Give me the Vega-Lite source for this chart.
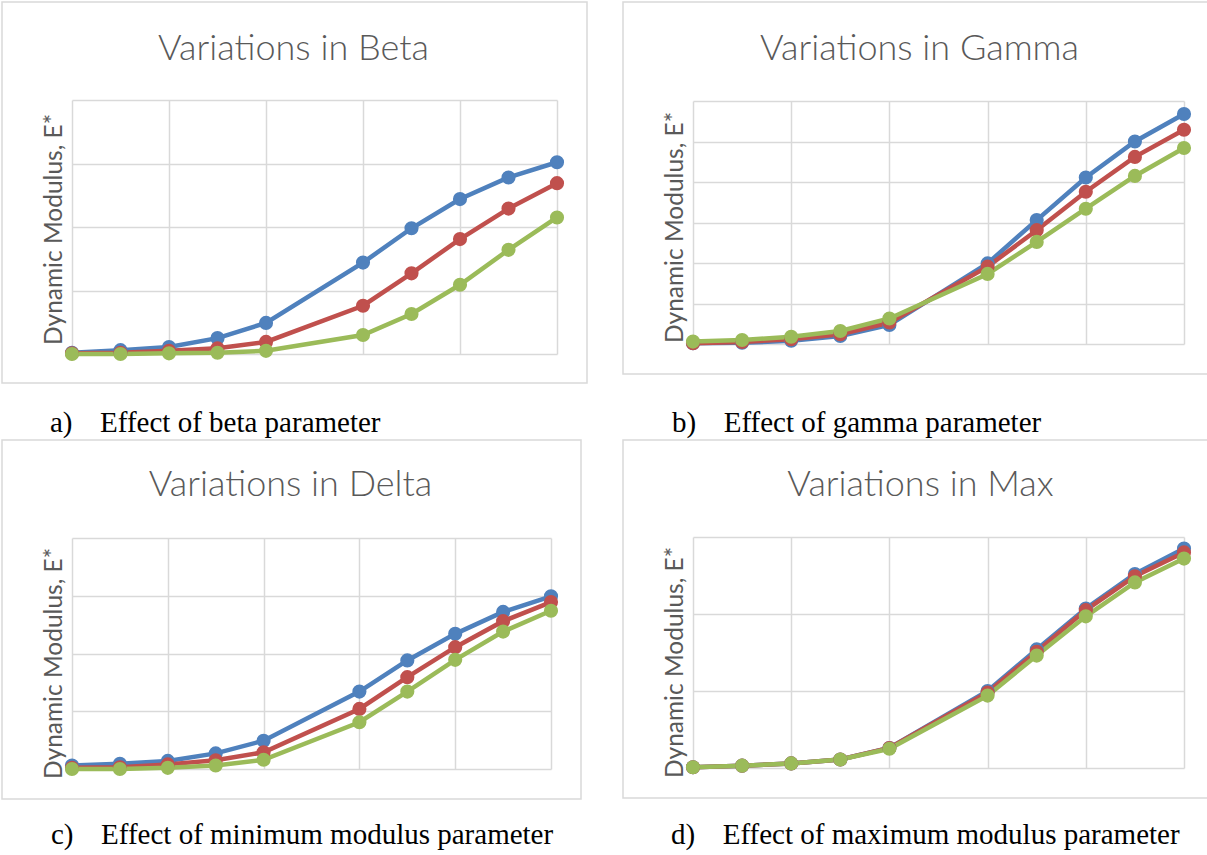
{
  "$schema": "https://vega.github.io/schema/vega-lite/v6.json",
  "padding": {"left": 1, "top": 1, "right": 0, "bottom": 0},
  "background": "white",
  "bounds": "flush",
  "columns": 2,
  "spacing": {"row": 57, "column": 36},
  "config": {
    "view": {"stroke": "#d9d9d9", "strokeWidth": 1.5},
    "axis": {
      "grid": true, "gridColor": "#d9d9d9", "gridWidth": 1.5,
      "domain": false, "ticks": false, "labels": false,
      "titleColor": "#595959", "titleFont": "Lato", "titleAlign": "center", "titleBaseline": "alphabetic"
    },
    "title": {"font": "Liberation Serif", "fontSize": 29, "fontWeight": "normal", "color": "#000000", "orient": "bottom", "anchor": "start", "frame": "group"},
    "line": {"strokeWidth": 4.5},
    "point": {"filled": true, "size": 200, "opacity": 1}
  },
  "datasets": {
    "a": [
      {"x": 0, "s": "1", "y": 0.02}, {"x": 0.5, "s": "1", "y": 0.06}, {"x": 1, "s": "1", "y": 0.11}, {"x": 1.5, "s": "1", "y": 0.25}, {"x": 2, "s": "1", "y": 0.49},
      {"x": 3, "s": "1", "y": 1.44}, {"x": 3.5, "s": "1", "y": 1.98}, {"x": 4, "s": "1", "y": 2.44}, {"x": 4.5, "s": "1", "y": 2.78}, {"x": 5, "s": "1", "y": 3.02},
      {"x": 0, "s": "2", "y": 0.01}, {"x": 0.5, "s": "2", "y": 0.02}, {"x": 1, "s": "2", "y": 0.05}, {"x": 1.5, "s": "2", "y": 0.09}, {"x": 2, "s": "2", "y": 0.19},
      {"x": 3, "s": "2", "y": 0.76}, {"x": 3.5, "s": "2", "y": 1.27}, {"x": 4, "s": "2", "y": 1.81}, {"x": 4.5, "s": "2", "y": 2.29}, {"x": 5, "s": "2", "y": 2.69},
      {"x": 0, "s": "3", "y": 0.0}, {"x": 0.5, "s": "3", "y": 0.0}, {"x": 1, "s": "3", "y": 0.01}, {"x": 1.5, "s": "3", "y": 0.02}, {"x": 2, "s": "3", "y": 0.05},
      {"x": 3, "s": "3", "y": 0.30}, {"x": 3.5, "s": "3", "y": 0.63}, {"x": 4, "s": "3", "y": 1.09}, {"x": 4.5, "s": "3", "y": 1.64}, {"x": 5, "s": "3", "y": 2.15}
    ],
    "b": [
      {"x": 0, "s": "1", "y": 0.02}, {"x": 0.5, "s": "1", "y": 0.03}, {"x": 1, "s": "1", "y": 0.08}, {"x": 1.5, "s": "1", "y": 0.2}, {"x": 2, "s": "1", "y": 0.47},
      {"x": 3, "s": "1", "y": 1.99}, {"x": 3.5, "s": "1", "y": 3.06}, {"x": 4, "s": "1", "y": 4.11}, {"x": 4.5, "s": "1", "y": 5.0}, {"x": 5, "s": "1", "y": 5.68},
      {"x": 0, "s": "2", "y": 0.02}, {"x": 0.5, "s": "2", "y": 0.05}, {"x": 1, "s": "2", "y": 0.12}, {"x": 1.5, "s": "2", "y": 0.24}, {"x": 2, "s": "2", "y": 0.53},
      {"x": 3, "s": "2", "y": 1.91}, {"x": 3.5, "s": "2", "y": 2.81}, {"x": 4, "s": "2", "y": 3.76}, {"x": 4.5, "s": "2", "y": 4.62}, {"x": 5, "s": "2", "y": 5.29},
      {"x": 0, "s": "3", "y": 0.06}, {"x": 0.5, "s": "3", "y": 0.10}, {"x": 1, "s": "3", "y": 0.18}, {"x": 1.5, "s": "3", "y": 0.32}, {"x": 2, "s": "3", "y": 0.63},
      {"x": 3, "s": "3", "y": 1.73}, {"x": 3.5, "s": "3", "y": 2.52}, {"x": 4, "s": "3", "y": 3.34}, {"x": 4.5, "s": "3", "y": 4.15}, {"x": 5, "s": "3", "y": 4.84}
    ],
    "c": [
      {"x": 0, "s": "1", "y": 0.06}, {"x": 0.5, "s": "1", "y": 0.09}, {"x": 1, "s": "1", "y": 0.14}, {"x": 1.5, "s": "1", "y": 0.27}, {"x": 2, "s": "1", "y": 0.49},
      {"x": 3, "s": "1", "y": 1.34}, {"x": 3.5, "s": "1", "y": 1.88}, {"x": 4, "s": "1", "y": 2.34}, {"x": 4.5, "s": "1", "y": 2.72}, {"x": 5, "s": "1", "y": 2.99},
      {"x": 0, "s": "2", "y": 0.02}, {"x": 0.5, "s": "2", "y": 0.03}, {"x": 1, "s": "2", "y": 0.08}, {"x": 1.5, "s": "2", "y": 0.15}, {"x": 2, "s": "2", "y": 0.29},
      {"x": 3, "s": "2", "y": 1.04}, {"x": 3.5, "s": "2", "y": 1.59}, {"x": 4, "s": "2", "y": 2.11}, {"x": 4.5, "s": "2", "y": 2.56}, {"x": 5, "s": "2", "y": 2.89},
      {"x": 0, "s": "3", "y": 0.0}, {"x": 0.5, "s": "3", "y": 0.0}, {"x": 1, "s": "3", "y": 0.02}, {"x": 1.5, "s": "3", "y": 0.06}, {"x": 2, "s": "3", "y": 0.16},
      {"x": 3, "s": "3", "y": 0.81}, {"x": 3.5, "s": "3", "y": 1.34}, {"x": 4, "s": "3", "y": 1.89}, {"x": 4.5, "s": "3", "y": 2.38}, {"x": 5, "s": "3", "y": 2.74}
    ],
    "d": [
      {"x": 0, "s": "1", "y": 0.01}, {"x": 0.5, "s": "1", "y": 0.03}, {"x": 1, "s": "1", "y": 0.06}, {"x": 1.5, "s": "1", "y": 0.11}, {"x": 2, "s": "1", "y": 0.26},
      {"x": 3, "s": "1", "y": 1.0}, {"x": 3.5, "s": "1", "y": 1.54}, {"x": 4, "s": "1", "y": 2.07}, {"x": 4.5, "s": "1", "y": 2.52}, {"x": 5, "s": "1", "y": 2.85},
      {"x": 0, "s": "2", "y": 0.01}, {"x": 0.5, "s": "2", "y": 0.03}, {"x": 1, "s": "2", "y": 0.06}, {"x": 1.5, "s": "2", "y": 0.11}, {"x": 2, "s": "2", "y": 0.26},
      {"x": 3, "s": "2", "y": 0.98}, {"x": 3.5, "s": "2", "y": 1.51}, {"x": 4, "s": "2", "y": 2.05}, {"x": 4.5, "s": "2", "y": 2.49}, {"x": 5, "s": "2", "y": 2.80},
      {"x": 0, "s": "3", "y": 0.01}, {"x": 0.5, "s": "3", "y": 0.03}, {"x": 1, "s": "3", "y": 0.06}, {"x": 1.5, "s": "3", "y": 0.11}, {"x": 2, "s": "3", "y": 0.25},
      {"x": 3, "s": "3", "y": 0.94}, {"x": 3.5, "s": "3", "y": 1.46}, {"x": 4, "s": "3", "y": 1.97}, {"x": 4.5, "s": "3", "y": 2.41}, {"x": 5, "s": "3", "y": 2.72}
    ]
  },
  "concat": [
    {
      "width": 585, "height": 381,
      "data": {"name": "a"},
      "title": {"text": "a)\u00a0\u00a0\u00a0\u2009Effect of beta parameter", "offset": 26, "dx": 48},
      "encoding": {
        "x": {"field": "x", "type": "quantitative", "scale": {"domain": [0, 5], "range": [70, 555], "nice": false, "zero": false},
              "axis": {"orient": "top", "values": [0, 1, 2, 3, 4, 5], "title": "Variations in Beta", "titleX": 291, "titleY": 57, "titleFontSize": 36, "titleFontWeight": 300, "titleAngle": 0}},
        "y": {"field": "y", "type": "quantitative", "scale": {"domain": [0, 4], "range": [352, 98], "nice": false, "zero": false},
              "axis": {"orient": "left", "values": [0, 1, 2, 3, 4], "title": "Dynamic Modulus, E*", "titleX": 59, "titleY": 227, "titleFontSize": 24.5, "titleFontWeight": "normal", "titleAngle": -90}},
        "color": {"field": "s", "type": "nominal", "scale": {"domain": ["1", "2", "3"], "range": ["#4F81BD", "#C0504D", "#9BBB59"]}, "legend": null}
      },
      "layer": [{"mark": "line"}, {"mark": "point"}]
    },
    {
      "width": 585, "height": 372,
      "data": {"name": "b"},
      "title": {"text": "b)\u00a0\u00a0\u00a0\u2009Effect of gamma parameter", "offset": 35, "dx": 49},
      "encoding": {
        "x": {"field": "x", "type": "quantitative", "scale": {"domain": [0, 5], "range": [70, 561], "nice": false, "zero": false},
              "axis": {"orient": "top", "values": [0, 1, 2, 3, 4, 5], "title": "Variations in Gamma", "titleX": 296, "titleY": 57, "titleFontSize": 36, "titleFontWeight": 300, "titleAngle": 0}},
        "y": {"field": "y", "type": "quantitative", "scale": {"domain": [0, 6], "range": [342, 99], "nice": false, "zero": false},
              "axis": {"orient": "left", "values": [0, 1, 2, 3, 4, 5, 6], "title": "Dynamic Modulus, E*", "titleX": 59, "titleY": 225, "titleFontSize": 24.5, "titleFontWeight": "normal", "titleAngle": -90}},
        "color": {"field": "s", "type": "nominal", "scale": {"domain": ["1", "2", "3"], "range": ["#4F81BD", "#C0504D", "#9BBB59"]}, "legend": null}
      },
      "layer": [{"mark": "line"}, {"mark": "point"}]
    },
    {
      "width": 579, "height": 359,
      "data": {"name": "c"},
      "title": {"text": "c)\u00a0\u00a0\u00a0\u2009Effect of minimum modulus parameter", "offset": 22, "dx": 49},
      "encoding": {
        "x": {"field": "x", "type": "quantitative", "scale": {"domain": [0, 5], "range": [70, 549], "nice": false, "zero": false},
              "axis": {"orient": "top", "values": [0, 1, 2, 3, 4, 5], "title": "Variations in Delta", "titleX": 288, "titleY": 55, "titleFontSize": 36, "titleFontWeight": 300, "titleAngle": 0}},
        "y": {"field": "y", "type": "quantitative", "scale": {"domain": [0, 4], "range": [329, 98], "nice": false, "zero": false},
              "axis": {"orient": "left", "values": [0, 1, 2, 3, 4], "title": "Dynamic Modulus, E*", "titleX": 59, "titleY": 223, "titleFontSize": 24.5, "titleFontWeight": "normal", "titleAngle": -90}},
        "color": {"field": "s", "type": "nominal", "scale": {"domain": ["1", "2", "3"], "range": ["#4F81BD", "#C0504D", "#9BBB59"]}, "legend": null}
      },
      "layer": [{"mark": "line"}, {"mark": "point"}]
    },
    {
      "width": 585, "height": 358,
      "data": {"name": "d"},
      "title": {"text": "d)\u00a0\u00a0\u00a0\u2009Effect of maximum modulus parameter", "offset": 23, "dx": 48},
      "encoding": {
        "x": {"field": "x", "type": "quantitative", "scale": {"domain": [0, 5], "range": [70, 561], "nice": false, "zero": false},
              "axis": {"orient": "top", "values": [0, 1, 2, 3, 4, 5], "title": "Variations in Max", "titleX": 297, "titleY": 55, "titleFontSize": 36, "titleFontWeight": 300, "titleAngle": 0}},
        "y": {"field": "y", "type": "quantitative", "scale": {"domain": [0, 3], "range": [328, 97], "nice": false, "zero": false},
              "axis": {"orient": "left", "values": [0, 1, 2, 3], "title": "Dynamic Modulus, E*", "titleX": 59, "titleY": 222, "titleFontSize": 24.5, "titleFontWeight": "normal", "titleAngle": -90}},
        "color": {"field": "s", "type": "nominal", "scale": {"domain": ["1", "2", "3"], "range": ["#4F81BD", "#C0504D", "#9BBB59"]}, "legend": null}
      },
      "layer": [{"mark": "line"}, {"mark": "point"}]
    }
  ]
}
